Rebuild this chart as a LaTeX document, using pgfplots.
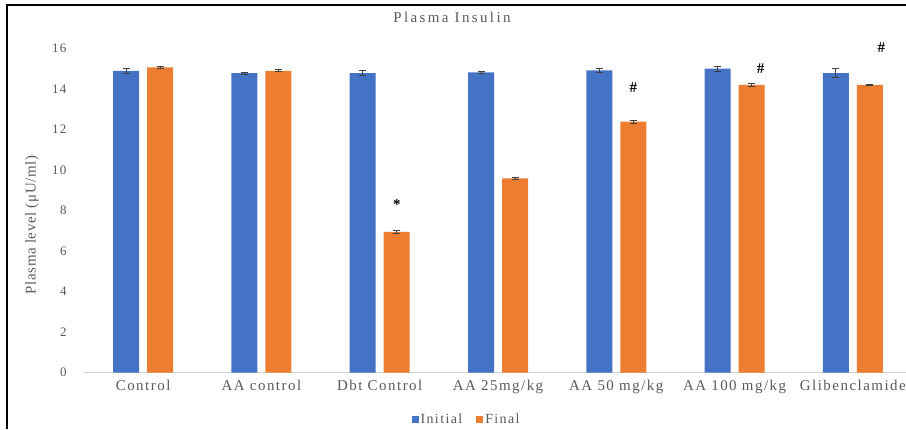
\documentclass[border=0pt]{standalone}
\usepackage{fontspec}
\setmainfont{Liberation Serif}[LetterSpace=10]
\newfontfamily\plainserif{Liberation Serif}[LetterSpace=4]
\usepackage{pgfplots}
\usepackage{pgfplotstable}
\pgfplotsset{compat=1.18}
\definecolor{xblue}{HTML}{4472C4}
\definecolor{xorange}{HTML}{ED7D31}
\definecolor{txt}{HTML}{595959}

\pgfplotstableread{
x init initerr fin finerr
0 14.90 0.12 15.08 0.05
1 14.79 0.06 14.91 0.05
2 14.79 0.12 6.96 0.07
3 14.83 0.04 9.60 0.04
4 14.93 0.08 12.40 0.08
5 15.01 0.12 14.21 0.07
6 14.79 0.22 14.21 0.03
}\datatable

\begin{document}
\begin{tikzpicture}[x=1bp,y=1bp]
\useasboundingbox (0,0) rectangle (906,429);
\draw[line width=1.6bp] (7,0) -- (7,424) -- (906,424);
\node[text=txt, font=\fontsize{15}{15}\selectfont\addfontfeatures{LetterSpace=16}] at (452,412) {Plasma Insulin};
\node[rotate=90, text=txt, font=\fontsize{15}{15}\plainserif] at (32,204) {Plasma level (μU/ml)};
\begin{axis}[
  at={(84bp,56.3bp)}, anchor=south west,
  scale only axis, width=828bp, height=324bp,
  xmin=-0.5, xmax=6.5, ymin=0, ymax=16,
  ybar=8bp, bar width=26bp,
  axis x line*=bottom, axis y line*=left,
  y axis line style={draw=none},
  x axis line style={draw=black!18, line width=1.2bp},
  major tick length=0pt,
  ytick={0,2,...,16},
  xtick={0,...,6},
  xticklabels={Control, AA control, Dbt Control, AA 25mg/kg, AA 50 mg/kg, AA 100 mg/kg, Glibenclamide},
  /pgf/number format/assume math mode=true,
  yticklabel style={font=\fontsize{13}{13}\selectfont, text=txt, xshift=-14bp},
  xticklabel style={font=\fontsize{15}{15}\selectfont, text=txt, yshift=-4bp},
  clip=false,
  legend style={at={(0.462,-0.145)}, anchor=center, legend columns=2, draw=none,
    font=\fontsize{14}{14}\selectfont, text=txt, /tikz/every even column/.append style={column sep=12bp}},
  legend image code/.code={\fill[#1] (0bp,-3.5bp) rectangle (7bp,3.5bp);},
  error bars/y dir=both, error bars/y explicit,
  error bars/error bar style={line width=0.8bp, draw=black!75},
  error bars/error mark options={rotate=90, mark size=3.5bp, line width=0.8bp, draw=black!75},
]
\addplot[fill=xblue, draw=none] table[x=x, y=init, y error=initerr] {\datatable};
\addplot[fill=xorange, draw=none] table[x=x, y=fin, y error=finerr] {\datatable};
\legend{Initial, Final}
\node[font=\fontsize{15}{15}\selectfont\bfseries] at (axis cs:2.144,8.28) {*};
\node[font=\fontsize{15}{15}\selectfont\bfseries] at (axis cs:4.144,14.1) {\#};
\node[font=\fontsize{15}{15}\selectfont\bfseries] at (axis cs:5.22,15.04) {\#};
\node[font=\fontsize{15}{15}\selectfont\bfseries] at (axis cs:6.24,16.03) {\#};
\end{axis}
\end{tikzpicture}
\end{document}
